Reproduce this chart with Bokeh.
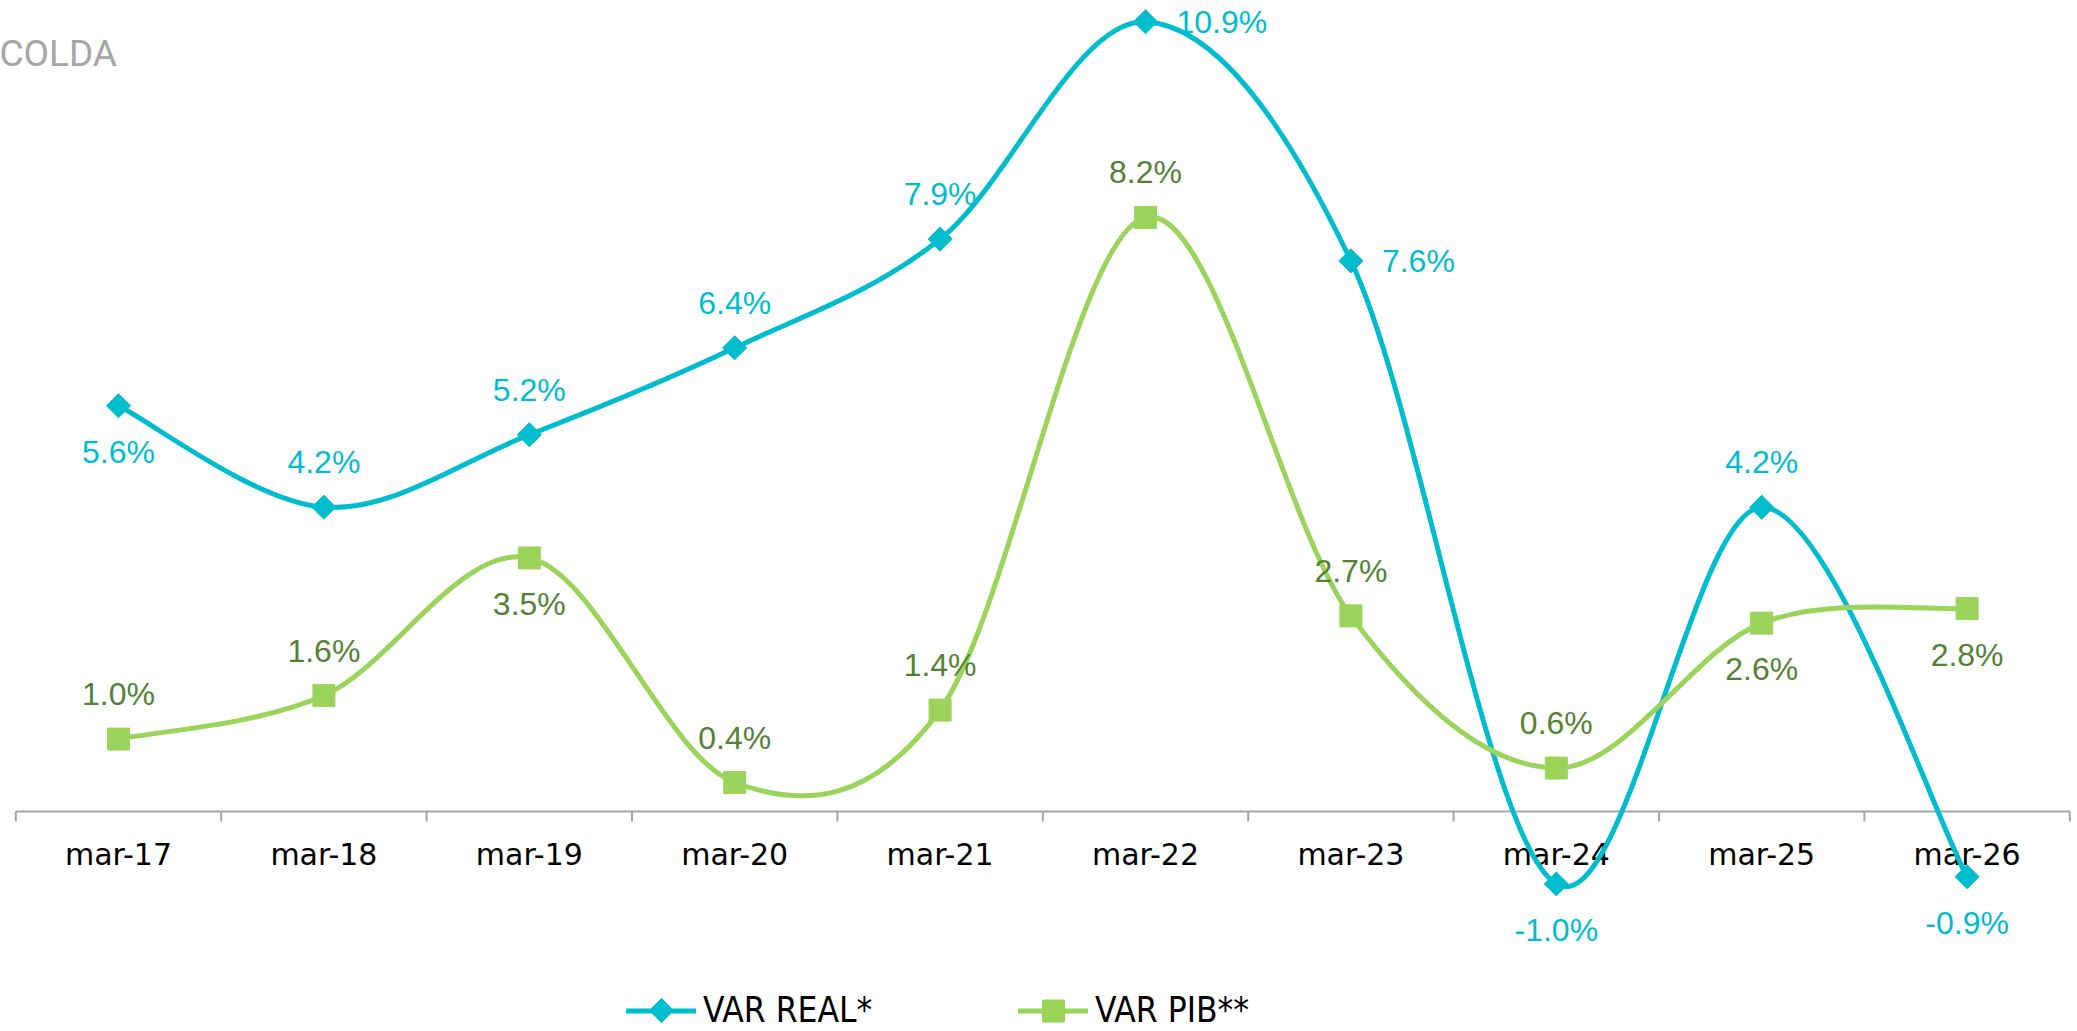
import numpy as np
from bokeh.plotting import figure
from bokeh.models import Range1d, Label, Legend, LegendItem
from bokeh.core.properties import value
from bokeh.embed import file_html
from bokeh.resources import INLINE

# ---------------- data ----------------
categories = ["mar-17", "mar-18", "mar-19", "mar-20", "mar-21",
              "mar-22", "mar-23", "mar-24", "mar-25", "mar-26"]
var_real = [5.6, 4.2, 5.2, 6.4, 7.9, 10.9, 7.6, -1.0, 4.2, -0.9]
var_pib = [1.0, 1.6, 3.5, 0.4, 1.4, 8.2, 2.7, 0.6, 2.6, 2.8]
series_names = ["VAR REAL*", "VAR PIB**"]
title_text = "COLDA"

# label placement (style)
real_label_side = ["below", "above", "above", "above", "above",
                   "right", "right", "below", "above", "below"]
pib_label_side = ["above", "above", "below", "above", "above",
                  "above", "above", "above", "below", "below"]

# ---------------- style ----------------
CYAN = "#00BDCE"
GREEN = "#9BD45A"
GREEN_TXT = "#548235"
AXIS = "#A6A6A6"
LABEL_FONT = "Liberation Sans"
CAT_FONT = "DejaVu Sans"
LEG_FONT = "'Liberation Sans Narrow', 'Arial Narrow', 'DejaVu Sans Condensed', 'DejaVu Sans'"

W, H = 2077, 1031
X_PX = 205.4      # px per category
Y_PX = 72.45      # px per percentage point
X0_PX = 118.0     # px position of first category
Y0_PX = 811.0     # px position of zero line
xs = -X0_PX / X_PX
ys_top = Y0_PX / Y_PX
p = figure(width=W, height=H, output_backend="svg", toolbar_location=None,
           x_range=Range1d(xs, xs + W / X_PX),
           y_range=Range1d(ys_top - H / Y_PX, ys_top),
           x_axis_type=None, y_axis_type=None, min_border=0,
           outline_line_color=None)
p.background_fill_color = "white"
p.border_fill_color = "white"


def px_x(px):
    return xs + px / X_PX


def px_y(py):
    return ys_top - py / Y_PX


n = len(categories)
idx = np.arange(n, dtype=float)

# ---------------- category axis ----------------
p.segment(x0=[-0.5], y0=[0], x1=[n - 0.5], y1=[0], line_color=AXIS, line_width=2)
bounds = np.arange(n + 1) - 0.5
p.ray(x=bounds, y=np.zeros(n + 1), length=10, length_units="screen",
      angle=-np.pi / 2, line_color=AXIS, line_width=2)
p.text(x=idx, y=np.zeros(n), text=categories, y_offset=43,
       text_align="center", text_baseline="middle",
       text_font=value(CAT_FONT), text_font_size="30px", text_color="black")


def smooth(xv, yv):
    x = np.asarray(xv, float)
    y = np.asarray(yv, float)
    m = len(x)
    xp = np.concatenate([[x[0]], x, [x[-1]]])
    yp = np.concatenate([[y[0]], y, [y[-1]]])
    cx0 = x[:-1] + (xp[2:m + 1] - xp[0:m - 1]) / 6
    cy0 = y[:-1] + (yp[2:m + 1] - yp[0:m - 1]) / 6
    cx1 = x[1:] - (xp[3:m + 2] - xp[1:m]) / 6
    cy1 = y[1:] - (yp[3:m + 2] - yp[1:m]) / 6
    return dict(x0=x[:-1], y0=y[:-1], x1=x[1:], y1=y[1:],
                cx0=cx0, cy0=cy0, cx1=cx1, cy1=cy1)


def add_labels(vals, sides, color):
    txt = [f"{v:.1f}%" for v in vals]
    cx, cy, ct, cyo = [], [], [], []
    rx, ry, rt = [], [], []
    for i, (v, s) in enumerate(zip(vals, sides)):
        if s == "right":
            rx.append(i); ry.append(v); rt.append(txt[i])
        else:
            cx.append(i); cy.append(v); ct.append(txt[i])
            cyo.append(-45 if s == "above" else 46)
    if cx:
        p.text(x=cx, y=cy, text=ct, y_offset=cyo, text_align="center",
               text_baseline="middle", text_font=value(LABEL_FONT),
               text_font_size="32px", text_color=color)
    if rx:
        p.text(x=rx, y=ry, text=rt, x_offset=31, text_align="left",
               text_baseline="middle", text_font=value(LABEL_FONT),
               text_font_size="32px", text_color=color)


# ---------------- series ----------------
real_line = p.bezier(**smooth(idx, var_real), line_color=CYAN, line_width=5, line_cap="round")
real_pts = p.scatter(idx, var_real, marker="square", angle=np.pi / 4, size=17,
                     fill_color=CYAN, line_color=CYAN)
pib_line = p.bezier(**smooth(idx, var_pib), line_color=GREEN, line_width=5, line_cap="round")
pib_pts = p.scatter(idx, var_pib, marker="square", size=22,
                    fill_color=GREEN, line_color=GREEN)

add_labels(var_real, real_label_side, CYAN)
add_labels(var_pib, pib_label_side, GREEN_TXT)

# ---------------- legend ----------------
LEG_Y = 1010       # px centre of legend row
LEG_X = [626, 1018]
GLYPH_W, GLYPH_H = 70, 55
for name, rends, lx in [(series_names[0], [real_line], LEG_X[0]),
                        (series_names[1], [pib_line, pib_pts], LEG_X[1])]:
    lg = Legend(items=[LegendItem(label=name, renderers=rends)],
                location=(lx, H - LEG_Y - GLYPH_H / 2), orientation="horizontal",
                glyph_width=GLYPH_W, glyph_height=GLYPH_H, label_standoff=7,
                label_height=GLYPH_H, padding=0, margin=0, spacing=0,
                border_line_color=None, background_fill_alpha=0,
                label_text_font=LEG_FONT, label_text_font_size="35px",
                label_text_color="black", label_text_baseline="middle")
    p.add_layout(lg)

# rotated-square legend key for the first series
p.scatter(x=[px_x(LEG_X[0] + GLYPH_W / 2)], y=[px_y(LEG_Y)], marker="square",
          angle=np.pi / 4, size=17, fill_color=CYAN, line_color=CYAN)

# ---------------- title ----------------
p.add_layout(Label(x=-1, y=H - 53, x_units="screen", y_units="screen",
                   text=title_text, text_font="Roboto", text_font_size="37px",
                   text_color="#A6A6A6", text_baseline="middle"))

open("out.html", "w").write(file_html(p, INLINE))
